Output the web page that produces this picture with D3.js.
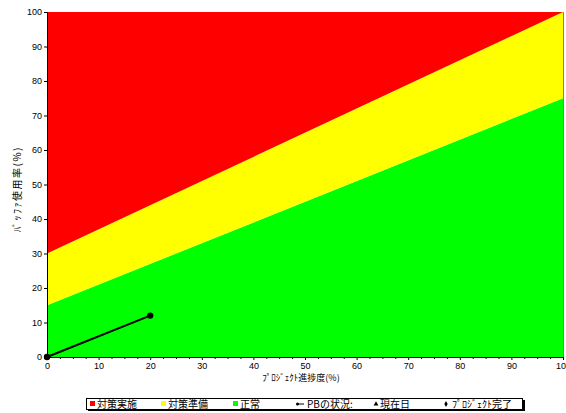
<!DOCTYPE html>
<html>
<head>
<meta charset="utf-8">
<script src="https://cdn.jsdelivr.net/npm/d3@7"></script>
<style>
  html, body { margin: 0; padding: 0; background: #fff; }
  svg { display: block; font-family: "Liberation Sans", "DejaVu Sans", sans-serif; }
</style>
</head>
<body>
<svg id="chart" width="566" height="413"></svg>
<script>
// Zone boundaries: buffer usage (%) at progress 0 and 100
const progressDomain = [0, 100];
const redLower = [30, 100];      // red / yellow boundary
const yellowLower = [15, 75];    // yellow / green boundary

// Buffer status path (progress %, buffer usage %)
const statusProgress = [0, 20];
const statusBuffer = [0, 12];

const xTicks = [0, 10, 20, 30, 40, 50, 60, 70, 80, 90, 100];
const yTicks = [0, 10, 20, 30, 40, 50, 60, 70, 80, 90, 100];

const legendLabels = ["対策実施", "対策準備", "正常", "PBの状況:", "現在日", "ﾌﾟﾛｼﾞｪｸﾄ完了"];
const xTitle = "ﾌﾟﾛｼﾞｪｸﾄ進捗度(%)";
const yTitle = "ﾊﾞｯﾌｧ使用率(%)";

const svg = d3.select("#chart");
const plotL = 47, plotR = 563, plotT = 12, plotB = 357;
const x = d3.scaleLinear().domain([0, 100]).range([plotL, plotR]);
const y = d3.scaleLinear().domain([0, 100]).range([plotB, plotT]);

const jp = "'Noto Sans CJK JP', sans-serif";

// Zones
const area = d3.area().x(d => x(d.p)).y0(d => y(d.lo)).y1(d => y(d.hi));
function zone(lo, hi, color) {
  const pts = progressDomain.map((p, i) => ({ p, lo: lo[i], hi: hi[i] }));
  svg.append("path").attr("d", area(pts)).attr("fill", color);
}
zone([0, 0], yellowLower, "#00ff00");
zone(yellowLower, redLower, "#ffff00");
zone(redLower, [100, 100], "#ff0000");

// Right edge shade
svg.append("line").attr("x1", plotR + 0.5).attr("x2", plotR + 0.5)
  .attr("y1", plotT).attr("y2", plotB).attr("stroke", "#808080").attr("stroke-width", 1);

// Axes
const xAxis = d3.axisBottom(x).tickValues(xTicks).tickSize(3).tickPadding(3);
const gx = svg.append("g").attr("transform", `translate(0,${plotB})`).call(xAxis);
gx.select(".domain").attr("stroke", "#000");
gx.selectAll("text").attr("font-size", 9).attr("fill", "#000");
// minor ticks
gx.selectAll(".minor").data(d3.range(2.5, 100, 2.5).filter(v => v % 10 !== 0))
  .enter().append("line").attr("class", "minor")
  .attr("x1", d => x(d) + 0.5).attr("x2", d => x(d) + 0.5)
  .attr("y1", 0).attr("y2", 2).attr("stroke", "#000");

const yAxis = d3.axisLeft(y).tickValues(yTicks).tickSize(3).tickPadding(2);
const gy = svg.append("g").attr("transform", `translate(${plotL},0)`).call(yAxis);
gy.select(".domain").attr("stroke", "#000");
gy.selectAll("text").attr("font-size", 9).attr("fill", "#000");

// Axis titles
svg.append("text").attr("x", 301).attr("y", 381).attr("text-anchor", "middle")
  .attr("font-family", jp).attr("font-size", 9).text(xTitle);
svg.append("text").attr("transform", "translate(21,189) rotate(-90)")
  .attr("text-anchor", "middle").attr("font-family", jp).attr("font-size", 10)
  .attr("letter-spacing", 1.5).text(yTitle);

// Status line
const pts = statusProgress.map((p, i) => [x(p), y(statusBuffer[i])]);
svg.append("path").attr("d", d3.line()(pts)).attr("fill", "none")
  .attr("stroke", "#000").attr("stroke-width", 2);
svg.selectAll(".pt").data(pts).enter().append("circle")
  .attr("cx", d => d[0]).attr("cy", d => d[1]).attr("r", 3.2).attr("fill", "#000");

// Legend
const lg = svg.append("g");
lg.append("rect").attr("x", 88).attr("y", 400).attr("width", 437).attr("height", 11).attr("fill", "#000");
lg.append("rect").attr("x", 86.5).attr("y", 398.5).attr("width", 436).attr("height", 11)
  .attr("fill", "#fff").attr("stroke", "#000");
const lx = [97, 168, 240, 307, 380, 452];
const swatch = ["#ff0000", "#ffff00", "#00ff00"];
swatch.forEach((c, i) => {
  lg.append("rect").attr("x", lx[i] - 7).attr("y", 401).attr("width", 5).attr("height", 5).attr("fill", c);
});
// status marker: short line ending in a dot
lg.append("line").attr("x1", 297).attr("x2", 304).attr("y1", 404).attr("y2", 404).attr("stroke", "#000");
lg.append("circle").attr("cx", 297.5).attr("cy", 404).attr("r", 1.5).attr("fill", "#000");
lg.append("path").attr("d", d3.symbol(d3.symbolTriangle, 10)()).attr("transform", "translate(376,404)").attr("fill", "#000");
lg.append("path").attr("d", d3.symbol(d3.symbolDiamond, 10)()).attr("transform", "translate(446,404)").attr("fill", "#000");
legendLabels.forEach((t, i) => {
  lg.append("text").attr("x", lx[i]).attr("y", 408).attr("font-family", jp)
    .attr("font-size", 10).text(t);
});
</script>
</body>
</html>
